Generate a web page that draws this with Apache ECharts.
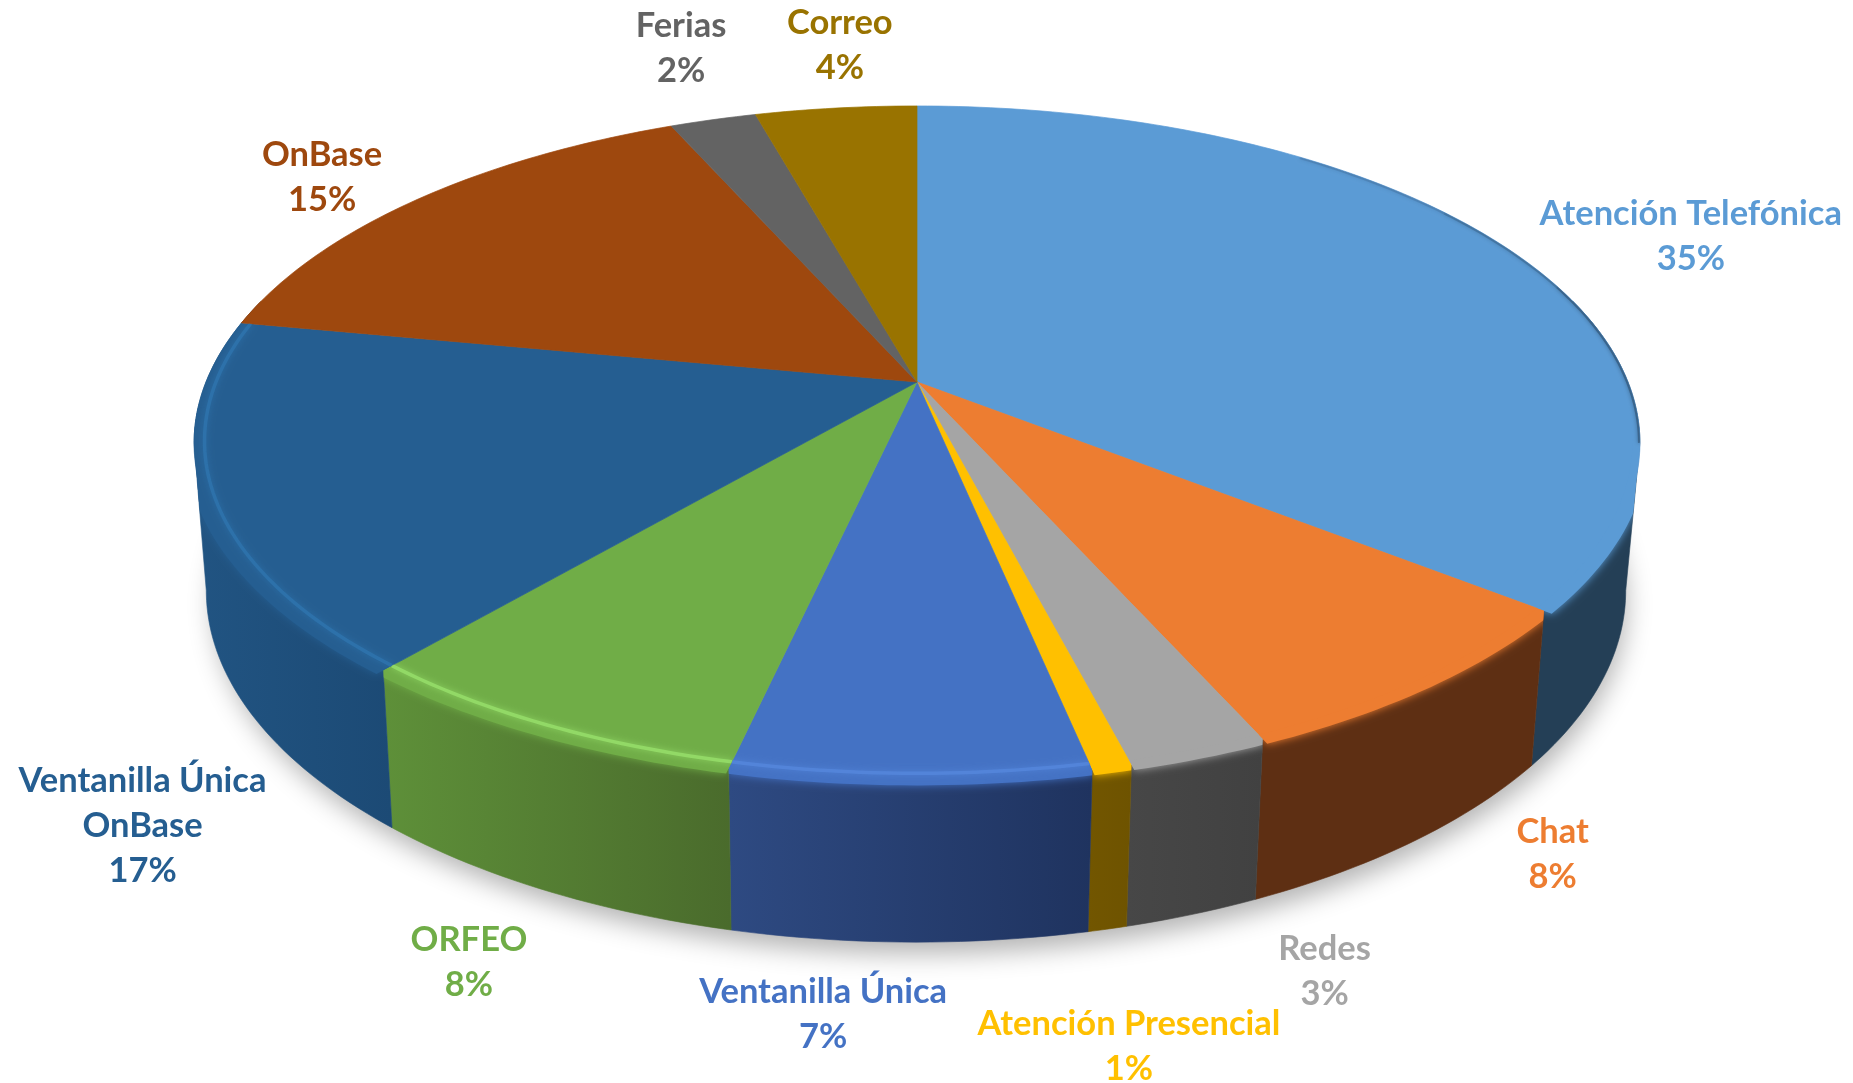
<!DOCTYPE html>
<html>
<head>
<meta charset="utf-8">
<style>html,body{margin:0;padding:0;background:#fff}#c{width:1853px;height:1083px}</style>
<script src="https://cdn.jsdelivr.net/npm/echarts@6/dist/echarts.min.js"></script>
</head>
<body>
<div id="c"></div>
<script>
// ---- data ----
var categories = ['Atención Telefónica','Chat','Redes','Atención Presencial','Ventanilla Única','ORFEO','Ventanilla Única\nOnBase','OnBase','Ferias','Correo'];
var sliceShares = [35.7,7.65,2.65,0.75,6.75,7.7,16.8,15.4,2.3,4.3];
var percentLabels = ['35%','8%','3%','1%','7%','8%','17%','15%','2%','4%'];

// ---- styles ----
var topColors  = ['#5B9BD5','#ED7D31','#A5A5A5','#FFC000','#4472C4','#70AD47','#255E91','#9E480E','#636363','#997300'];
var wallLeft   = ['#243F56','#5E2F13','#474747','#725600','#2E4A82','#5E9039','#215482','#5E2F13','#3C3C3C','#5B4500'];
var wallRight  = ['#243F56','#5E2F13','#414141','#6E5300','#1F335F','#4A6B2C','#1C4A75','#5E2F13','#3C3C3C','#5B4500'];
var bandColors = [null,null,null,null,'#5587DC','#97E06B','#2E74AE',null,null,null];
var labelOffsets = [[180,-14],[128,171],[126,218],[17,279],[-87,234],[-70,232],[-61,328],[-95,-22],[-32,-71],[4,-63]];

// ---- layout of the projected disc ----
var P = 0.181;
var SIL_R = 100.4, SIL_L = 259.6; // where the rim turns from back to front
var topDisc = {cx:917, cy:382, a:711, b:326};
var botDisc = {cx:916, cy:527, a:698, b:340};
function project(d, deg, r){
  var t = deg*Math.PI/180, u = r*Math.sin(t), v = -r*Math.cos(t), w = 1-P*v;
  return [d.cx + d.a*u/w, d.cy + d.b*v/w];
}
function arc(d, a0, a1, r){
  var pts=[], n=Math.max(2,Math.ceil(Math.abs(a1-a0)));
  for(var i=0;i<=n;i++) pts.push(project(d,a0+(a1-a0)*i/n,r));
  return pts;
}
var total = sliceShares.reduce(function(s,x){return s+x;},0), acc=0;
var spans = sliceShares.map(function(s){var a=[acc,acc+s];acc+=s;return a;});
function deg(i,k){return spans[i][k]/total*360;}
function isFront(a){return a>=SIL_R&&a<=SIL_L;}
// outer boundary of a slice from angle a0 to a1: bottom rim in front, top rim at the back
function hull(a0,a1){
  var stops=[a0], pts=[project(topDisc,a0,1)];
  [SIL_R,SIL_L].forEach(function(s){if(s>a0&&s<a1)stops.push(s);});
  for(var a=Math.ceil(a0);a<a1;a+=1){ if(a>a0) stops.push(a); }
  stops.push(a1);
  stops.sort(function(x,y){return x-y;});
  stops.forEach(function(a){
    if(a===SIL_L) pts.push(project(botDisc,a,1),project(topDisc,a,1));
    else if(a===SIL_R) pts.push(project(topDisc,a,1),project(botDisc,a,1));
    else pts.push(project(isFront(a)?botDisc:topDisc,a,1));
  });
  pts.push(project(topDisc,a1,1));
  return pts;
}
function rows(){return sliceShares.map(function(v,i){return [i,v];});}
var EMPTY={type:'group',children:[]};

var opt = {
  backgroundColor:'#fff',
  animation:false,
  series:[
    // ground shadow
    {type:'custom',coordinateSystem:'none',silent:true,z:1,data:[[0]],
     renderItem:function(){
       return {type:'polygon',shape:{points:arc(botDisc,0,360,0.995)},
         style:{fill:'#cfcfcf',shadowBlur:26,shadowColor:'rgba(0,0,0,0.30)',shadowOffsetX:4,shadowOffsetY:14}};
     }},
    // walls
    {type:'custom',coordinateSystem:'none',silent:true,z:2,data:rows(),
     renderItem:function(p,api){
       var i=api.value(0), a0=Math.max(deg(i,0),75), a1=Math.min(deg(i,1),285);
       if(a1<=a0) return EMPTY;
       var pts=hull(a0,a1);
       var xs=pts.map(function(q){return q[0];});
       var fill=new echarts.graphic.LinearGradient(Math.min.apply(null,xs),0,Math.max.apply(null,xs),0,
         [{offset:0,color:wallLeft[i]},{offset:1,color:wallRight[i]}],true);
       return {type:'polygon',shape:{points:pts},style:{fill:fill,stroke:fill,lineWidth:0.6}};
     }},
    // top surface
    {type:'custom',coordinateSystem:'none',silent:true,z:3,data:rows(),
     renderItem:function(p,api){
       var i=api.value(0);
       var pts=[[topDisc.cx,topDisc.cy]].concat(arc(topDisc,deg(i,0),deg(i,1),1));
       return {type:'polygon',shape:{points:pts},style:{fill:topColors[i],stroke:topColors[i],lineWidth:0.7}};
     }},
    // rim bevel, kept inside each slice
    {type:'custom',coordinateSystem:'none',silent:true,z:4,data:rows(),
     renderItem:function(p,api){
       var i=api.value(0), a0=deg(i,0), a1=deg(i,1), kids=[];
       var f0=Math.max(a0,SIL_R-6), f1=Math.min(a1,SIL_L+6);
       if(f1>f0){
         var strip=arc(topDisc,f0,f1,0.99).concat(arc(topDisc,f1,f0,1.011));
         kids.push({type:'polygon',shape:{points:strip},
           style:{fill:topColors[i],shadowBlur:8,shadowColor:topColors[i]}});
       }
       if(bandColors[i]){
         kids.push({type:'polyline',shape:{points:arc(topDisc,a0,a1,0.986)},
           style:{fill:null,stroke:bandColors[i],lineWidth:3.5,opacity:0.8,shadowBlur:6,shadowColor:bandColors[i]}});
       }
       if(i===0){
         [[38,55,0.2],[55,72,0.35],[72,SIL_R,0.55]].forEach(function(s){
           kids.push({type:'polyline',shape:{points:arc(topDisc,s[0],s[1],1)},
             style:{fill:null,stroke:'#2C4D6C',lineWidth:4,opacity:s[2],shadowBlur:4,shadowColor:'#2C4D6C'}});
         });
       }
       if(!kids.length) return EMPTY;
       return {type:'group',children:kids,
         clipPath:{type:'polygon',shape:{points:[[topDisc.cx,topDisc.cy]].concat(hull(a0,a1))}}};
     }},
    // labels
    {type:'custom',coordinateSystem:'none',silent:true,z:5,data:rows(),
     renderItem:function(p,api){
       var i=api.value(0), m=project(topDisc,(deg(i,0)+deg(i,1))/2,1), o=labelOffsets[i];
       return {type:'text',x:m[0]+o[0],y:m[1]+o[1],
         style:{text:categories[i]+'\n'+percentLabels[i],fill:topColors[i],
           font:'bold 34.5px Lato',lineHeight:45,textAlign:'center',textVerticalAlign:'middle'}};
     }}
  ]
};
var chart=echarts.init(document.getElementById('c'),null,{renderer:'canvas'});
chart.setOption(opt);
</script>
</body>
</html>
